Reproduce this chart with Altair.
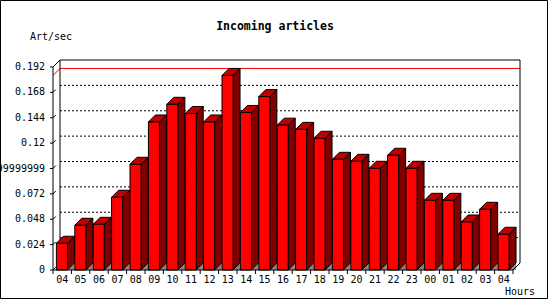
import altair as alt
import pandas as pd

# ---- data ----
hours = ["04", "05", "06", "07", "08", "09", "10", "11", "12", "13", "14", "15", "16",
         "17", "18", "19", "20", "21", "22", "23", "00", "01", "02", "03", "04"]
values = [0.0253, 0.0423, 0.0432, 0.0688, 0.100, 0.140, 0.1567, 0.148, 0.140, 0.184,
          0.149, 0.164, 0.137, 0.133, 0.1246, 0.1047, 0.1028, 0.0962, 0.1085, 0.0962,
          0.0659, 0.0659, 0.0454, 0.0574, 0.0338]
y_ticks = [0, 0.024, 0.048, 0.072, 0.096, 0.12, 0.144, 0.168, 0.192]
y_tick_labels = ["0", "0.024", "0.048", "0.072", "0.09599999999", "0.12", "0.144", "0.168", "0.192"]
title_text = "Incoming articles"
y_title = "Art/sec"
x_title = "Hours"

# ---- geometry / style ----
N = len(hours)
YMAX = y_ticks[-1]
STEP = 18.4              # px per category
PX_PER_UNIT = 203 / YMAX
DEPTH = 7                # 3D depth in px
DX = DEPTH / STEP        # depth in category units
DY = DEPTH / PX_PER_UNIT # depth in value units
BAR_OFF = 0.185
BAR_W = 0.6
W = N * STEP + DEPTH
H = 203 + DEPTH
FONT = "DejaVu Sans Mono"

xs = alt.Scale(domain=[0, N + DX], nice=False, zero=False)
ys = alt.Scale(domain=[0, YMAX + DY], nice=False, zero=False)

front_rows, side_rows, top_rows, tri_rows = [], [], [], []
for i, v in enumerate(values):
    xl = i + BAR_OFF
    xr = xl + BAR_W
    front_rows.append({"id": i, "xl": xl, "xr": xr, "v": v, "z": 0.0})
    side_rows += [{"id": i, "x": xr, "y": v, "y2": 0.0},
                  {"id": i, "x": xr + DX, "y": v + DY, "y2": DY}]
    top_rows += [{"id": i, "y": v, "x": xl, "x2": xr},
                 {"id": i, "y": v + DY, "x": xl + DX, "x2": xr + DX}]
    tri_rows += [{"id": i, "x": xr, "y": 0.0, "y2": 0.0},
                 {"id": i, "x": xr + DX, "y": DY, "y2": 0.0}]
front = pd.DataFrame(front_rows)
side = pd.DataFrame(side_rows)
top = pd.DataFrame(top_rows)
tri = pd.DataFrame(tri_rows)

grid = pd.DataFrame({"y": [t + DY for t in y_ticks[1:-1]], "x": DX, "x2": N + DX})
inner_ticks = pd.DataFrame({"y": y_ticks[:-1], "x": 0.0, "x2": 0.4 * DX,
                            "y2": [t + 0.4 * DY for t in y_ticks[:-1]]})
wall = pd.DataFrame({"o": [0, 1, 2, 3], "x": [DX, DX, N + DX, N + DX],
                     "y": [DY, YMAX + DY, YMAX + DY, DY]})
axes_path = pd.DataFrame({"o": [0, 1, 2, 3, 4], "x": [DX, 0, 0, N, N + DX],
                          "y": [YMAX + DY, YMAX, 0, 0, DY]})
vmax = max(values)
maxline = pd.DataFrame({"o": [0, 1, 2], "x": [0, DX, N + DX], "y": [vmax, vmax + DY, vmax + DY]})
xticks = pd.DataFrame({"x": list(range(N + 1))})
xlabels = pd.DataFrame({"x": [i + 0.5 for i in range(N)], "t": hours, "y0": 0.0})
ylabels = pd.DataFrame({"y": y_ticks, "t": y_tick_labels, "x0": 0.0})

X = lambda f: alt.X(f, scale=xs, axis=None)
Y = lambda f: alt.Y(f, scale=ys, axis=None, stack=None)

gridl = alt.Chart(grid).mark_rule(color="black", strokeDash=[2, 2], strokeWidth=1).encode(
    x=X("x:Q"), x2="x2:Q", y=Y("y:Q"))

maxl = alt.Chart(maxline).mark_line(color="#ff0000", strokeWidth=1).encode(
    x=X("x:Q"), y=Y("y:Q"), order="o:Q")

walll = alt.Chart(wall).mark_line(color="black", strokeWidth=1).encode(
    x=X("x:Q"), y=Y("y:Q"), order="o:Q")

tril = alt.Chart(tri).mark_area(orient="vertical", color="#888888", interpolate="linear").encode(
    x=X("x:Q"), y=Y("y:Q"), y2="y2:Q", detail="id:N")

sidel = alt.Chart(side).mark_area(orient="vertical", fill="#800000", stroke="black",
                                  strokeWidth=1, interpolate="linear").encode(
    x=X("x:Q"), y=Y("y:Q"), y2="y2:Q", detail="id:N")

topl = alt.Chart(top).mark_area(orient="horizontal", fill="#c00000", stroke="black",
                                strokeWidth=1, interpolate="linear").encode(
    y=Y("y:Q"), x=alt.X("x:Q", scale=xs, axis=None, stack=None), x2="x2:Q", detail="id:N")

frontl = alt.Chart(front).mark_rect(fill="#ff0000", stroke="black", strokeWidth=1).encode(
    x=X("xl:Q"), x2="xr:Q", y=Y("v:Q"), y2="z:Q")

axesl = alt.Chart(axes_path).mark_line(color="black", strokeWidth=1).encode(
    x=X("x:Q"), y=Y("y:Q"), order="o:Q")

innerl = alt.Chart(inner_ticks).mark_rule(color="black", strokeWidth=1).encode(
    x=X("x:Q"), x2="x2:Q", y=Y("y:Q"), y2="y2:Q")

xtickl = alt.Chart(xticks).mark_rule(color="black", strokeWidth=1).encode(
    x=X("x:Q"), y=alt.value(H), y2=alt.value(H + 4))

ytickl = alt.Chart(ylabels).mark_rule(color="black", strokeWidth=1).encode(
    y=Y("y:Q"), x=alt.value(-3), x2=alt.value(0))

xlabl = alt.Chart(xlabels).mark_text(font=FONT, fontSize=10, color="black", align="center",
                                     baseline="alphabetic", dy=13).encode(
    x=X("x:Q"), y=Y("y0:Q"), text="t:N")

ylabl = alt.Chart(ylabels).mark_text(font=FONT, fontSize=10, color="black", align="right",
                                     baseline="middle", dx=-8).encode(
    x=X("x0:Q"), y=Y("y:Q"), text="t:N")

titlel = alt.Chart(pd.DataFrame({"t": [title_text]})).mark_text(
    font=FONT, fontSize=11.5, fontWeight="bold", color="black",
    align="center", baseline="alphabetic").encode(
    text="t:N", x=alt.value(275 - 53), y=alt.value(30 - 60))
ytl = alt.Chart(pd.DataFrame({"t": [y_title]})).mark_text(
    font=FONT, fontSize=10, color="black", align="left", baseline="alphabetic").encode(
    text="t:N", x=alt.value(30 - 53), y=alt.value(40 - 60))
xtl = alt.Chart(pd.DataFrame({"t": [x_title]})).mark_text(
    font=FONT, fontSize=10, color="black", align="left", baseline="alphabetic").encode(
    text="t:N", x=alt.value(505 - 53), y=alt.value(295 - 60))

framel = alt.Chart(pd.DataFrame({"a": [0]})).mark_rect(fill=None, stroke="black", strokeWidth=1).encode(
    x=alt.value(0.5 - 53), x2=alt.value(547.5 - 53), y=alt.value(0.5 - 60), y2=alt.value(298.5 - 60))

chart = alt.layer(
    gridl, maxl, walll, tril, sidel, topl, frontl, axesl, innerl, xtickl, ytickl,
    xlabl, ylabl, titlel, ytl, xtl, framel
).resolve_scale(x="shared", y="shared").properties(
    width=W, height=H,
    autosize=alt.AutoSizeParams(type="none"),
    padding={"left": 53, "top": 60, "right": 550 - 53 - W, "bottom": 300 - 60 - H},
    background="white",
).configure_view(stroke=None)

chart.save("out.html", embed_options={"renderer": "svg", "actions": False})
